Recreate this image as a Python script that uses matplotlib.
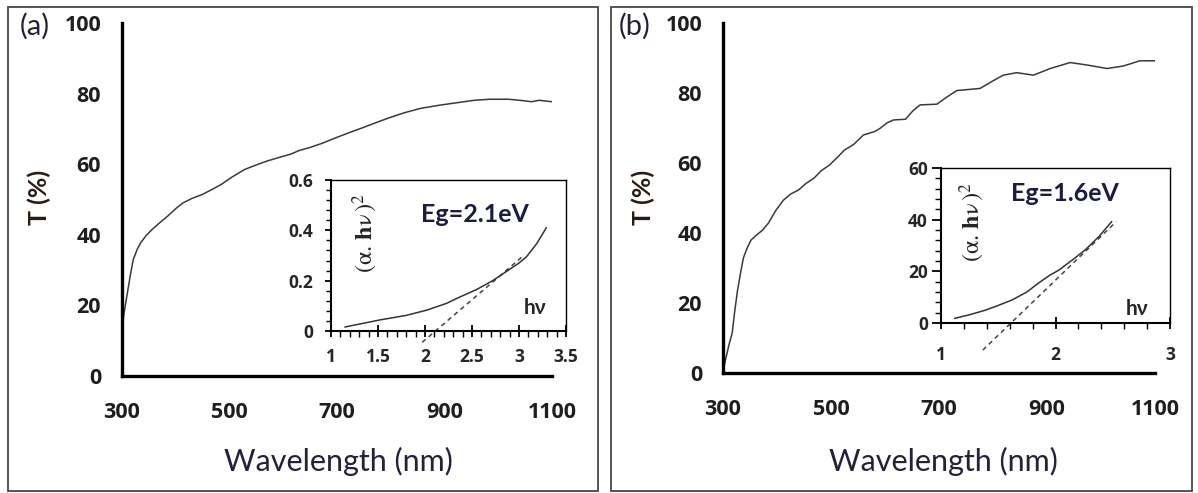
import matplotlib
matplotlib.use("Agg")
import matplotlib.pyplot as plt
from matplotlib.patches import Rectangle
from matplotlib.ticker import MultipleLocator, FuncFormatter

# ---------------- data ----------------
wl_a = [300, 304, 310, 316, 321, 328, 335, 345, 356, 370, 385, 400, 413, 430, 449, 467, 485,
        505, 528, 550, 570, 592, 613, 630, 649, 672, 698, 722, 749, 773, 798, 826, 855, 890,
        927, 955, 984, 1019, 1040, 1062, 1076, 1100]
T_a = [13, 18, 23.5, 29, 33, 35.8, 37.8, 39.8, 41.5, 43.4, 45.3, 47.4, 49, 50.3, 51.4, 52.8,
       54.3, 56.4, 58.5, 59.8, 60.9, 61.9, 62.8, 63.9, 64.7, 65.9, 67.5, 68.9, 70.4, 71.8, 73.2,
       74.6, 75.8, 76.7, 77.5, 78.1, 78.4, 78.4, 78.1, 77.7, 78.1, 77.7]

wl_b = [300, 305, 311, 317, 322, 327, 333, 338, 345, 352, 362, 373, 384, 398, 412, 426, 440,
        454, 468, 482, 497, 511, 525, 542, 560, 581, 591, 604, 616, 638, 651, 665, 696, 714,
        733, 776, 798, 819, 844, 875, 906, 943, 974, 1011, 1041, 1072, 1100]
T_b = [0.5, 4, 8, 11.4, 18, 23.7, 29, 33, 35.8, 38, 39.4, 40.8, 42.8, 46.5, 49.4, 51.2, 52.3,
       54.2, 55.6, 57.8, 59.4, 61.5, 63.7, 65.3, 68, 69, 69.9, 71.5, 72.3, 72.5, 74.8, 76.6, 76.8,
       78.8, 80.7, 81.3, 83.3, 85.1, 85.8, 85.1, 87, 88.7, 88, 87, 87.7, 89.2, 89.2]

hv_a = [1.15, 1.52, 1.8, 2.02, 2.23, 2.37, 2.55, 2.72, 2.9, 3.0, 3.08, 3.19, 3.29]
ahv_a = [0.016, 0.044, 0.062, 0.083, 0.11, 0.135, 0.165, 0.2, 0.245, 0.27, 0.295, 0.348, 0.41]
fit_hv_a = [1.97, 3.05]
fit_ahv_a = [-0.045, 0.30]

hv_b = [1.12, 1.25, 1.39, 1.5, 1.62, 1.75, 1.85, 1.95, 2.03, 2.15, 2.26, 2.38, 2.49]
ahv_b = [1.8, 3.2, 5, 6.8, 8.9, 12, 15.4, 18.5, 20.5, 24.5, 28.3, 33.5, 39.2]
fit_hv_b = [1.365, 2.53]
fit_ahv_b = [-10.5, 39.2]

main_xticks = [300, 500, 700, 900, 1100]
main_yticks = [0, 20, 40, 60, 80, 100]
panel_labels = ["(a)", "(b)"]
eg_labels = ["Eg=2.1eV", "Eg=1.6eV"]

# ---------------- figure ----------------
W, H = 1198, 493
fig = plt.figure(figsize=(W / 100, H / 100), dpi=100)
plt.rcParams['mathtext.fontset'] = 'stix'
SANS = ['Lato', 'DejaVu Sans']
TICKF = ['Open Sans', 'DejaVu Sans']


def box(l, t, r, b):
    return [l / W, 1 - b / H, (r - l) / W, (b - t) / H]


def fxy(x, y):
    return x / W, 1 - y / H


# panel frames
for (l, t, r, b) in [(8, 7, 598, 491), (611, 7, 1192, 491)]:
    fig.patches.append(Rectangle((l / W, 1 - b / H), (r - l) / W, (b - t) / H,
                                 transform=fig.transFigure, fill=False,
                                 edgecolor='#454545', linewidth=1.3))

main_boxes = [(122, 23, 552, 376), (723, 23, 1155, 373)]
main_data = [(wl_a, T_a), (wl_b, T_b)]
for i, (bx, (xs, ys)) in enumerate(zip(main_boxes, main_data)):
    ax = fig.add_axes(box(*bx))
    ax.plot(xs, ys, color='#3a3a3a', linewidth=1.1)
    ax.set_xlim(300, 1100)
    ax.set_ylim(0, 100)
    ax.set_xticks(main_xticks)
    ax.set_yticks(main_yticks)
    for s in ['top', 'right']:
        ax.spines[s].set_visible(False)
    for s in ['left', 'bottom']:
        ax.spines[s].set_linewidth(2.4)
        ax.spines[s].set_color('black')
    ax.tick_params(axis='x', length=0, pad=19)
    ax.tick_params(axis='y', length=0, pad=15)
    for lab in ax.get_xticklabels() + ax.get_yticklabels():
        lab.set_fontfamily(TICKF)
        lab.set_fontweight('bold')
        lab.set_fontsize(15.5)
        lab.set_color('#1e1e1e')
    ax.patch.set_alpha(0)

# axis titles and panel labels
for cx in [338, 943]:
    fig.text(*fxy(cx, 461), "Wavelength (nm)", ha='center', va='center',
             fontsize=22, family=SANS, color='#22223a')
for cx in [39, 643]:
    fig.text(*fxy(cx, 197), "T (%)", ha='center', va='center', rotation=90,
             fontsize=18, family=SANS, fontweight='bold', color='#2a1a14')
for cx, lab in zip([35, 635], panel_labels):
    fig.text(*fxy(cx, 26), lab, ha='center', va='center',
             fontsize=21, family=SANS, color='#22223a')

# insets
inset_boxes = [(331, 180, 566, 331), (941, 168, 1170, 323)]
inset_data = [(hv_a, ahv_a, fit_hv_a, fit_ahv_a), (hv_b, ahv_b, fit_hv_b, fit_ahv_b)]
inset_lims = [((1, 3.5), (0, 0.6)), ((1, 3), (0, 60))]
inset_major = [(0.5, 0.2), (1, 20)]
inset_minor = [(0.1, 0.04), (0.2, 4)]
inset_xpad = [8, 12]
inset_ypad = [8.5, 3]
inset_ylen = [(4.5, 3.5), (6.5, 4.5)]
eg_pos = [(475, 214), (1065, 193)]
ylab_pos = [(365, 233), (972, 222)]
hv_pos = [(535, 308), (1137, 309)]

for i in range(2):
    ax = fig.add_axes(box(*inset_boxes[i]))
    hv, ahv, fhv, fahv = inset_data[i]
    ax.plot(hv, ahv, color='#333333', linewidth=1.1, zorder=3)
    ax.plot(fhv, fahv, color='#444444', linewidth=1.1, linestyle=(0, (3, 2.5)),
            clip_on=False, zorder=2)
    ax.set_xlim(*inset_lims[i][0])
    ax.set_ylim(*inset_lims[i][1])
    ax.xaxis.set_major_locator(MultipleLocator(inset_major[i][0]))
    ax.yaxis.set_major_locator(MultipleLocator(inset_major[i][1]))
    ax.xaxis.set_minor_locator(MultipleLocator(inset_minor[i][0]))
    ax.yaxis.set_minor_locator(MultipleLocator(inset_minor[i][1]))
    for s in ['left', 'bottom']:
        ax.spines[s].set_linewidth(1.5)
    for s in ['top', 'right']:
        ax.spines[s].set_linewidth(1.0)
    ax.tick_params(axis='x', which='major', direction='inout', length=8.6, width=1.3,
                   pad=inset_xpad[i])
    ax.tick_params(axis='x', which='minor', direction='out', length=4.3, width=1.0)
    ax.tick_params(axis='y', which='major', direction='out', length=inset_ylen[i][0],
                   width=1.3, pad=inset_ypad[i])
    ax.tick_params(axis='y', which='minor', direction='out', length=inset_ylen[i][1], width=1.0)
    ax.xaxis.set_major_formatter(FuncFormatter(lambda v, p: '%g' % v))
    ax.yaxis.set_major_formatter(FuncFormatter(lambda v, p: '%g' % v))
    for lab in ax.get_xticklabels() + ax.get_yticklabels():
        lab.set_fontfamily(TICKF)
        lab.set_fontweight('bold')
        lab.set_fontsize(12.5)
        lab.set_color('#262626')
    fig.text(*fxy(*eg_pos[i]), eg_labels[i], ha='center', va='center', fontsize=18,
             family=SANS, fontweight='bold', color='#1c1c40')
    fig.text(*fxy(*ylab_pos[i]), r'$(\mathrm{\alpha}.\,\mathbf{h}\mathrm{\nu}\,)^{2}$',
             ha='center', va='center', rotation=90, fontsize=17.5, color='#262626')
    fig.text(*fxy(*hv_pos[i]), "hν", ha='center', va='center', fontsize=15,
             family=SANS, fontweight='bold', color='#262626')

fig.savefig("out.png", dpi=100)
